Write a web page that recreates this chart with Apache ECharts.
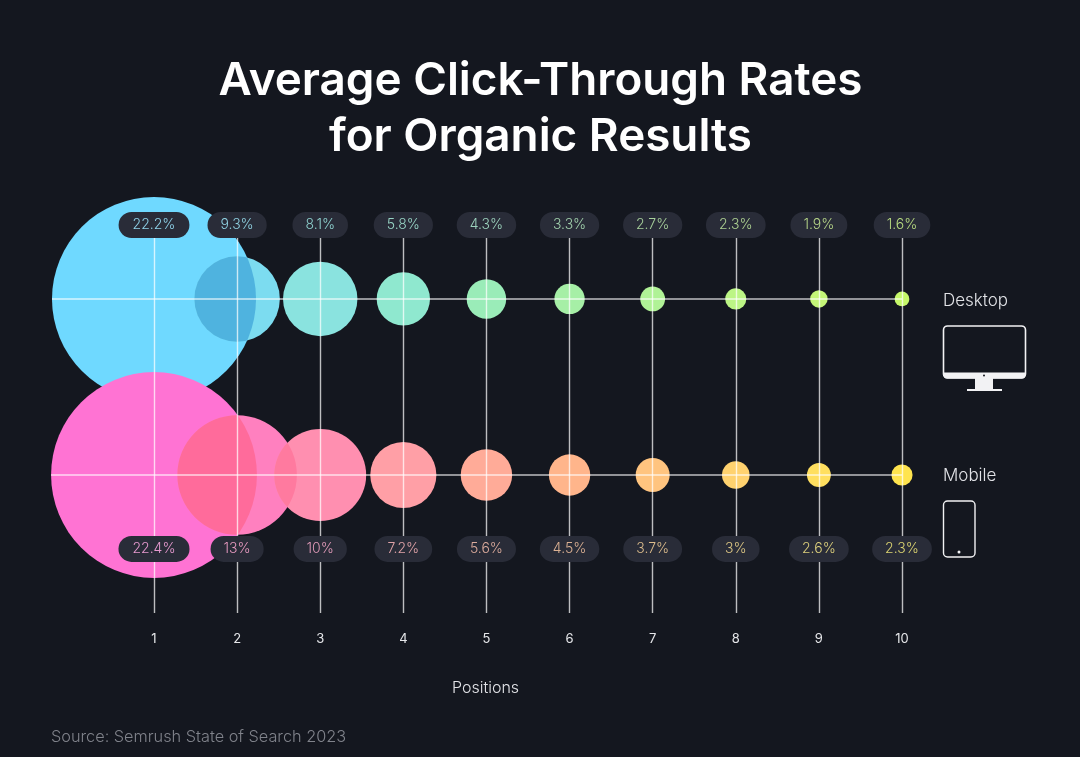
<!DOCTYPE html>
<html>
<head>
<meta charset="utf-8">
<style>html,body{margin:0;padding:0;background:#14171f}#c{width:1080px;height:757px}</style>
<script src="https://cdn.jsdelivr.net/npm/echarts@6/dist/echarts.min.js"></script>
</head>
<body>
<div id="c"></div>
<script>
const positions = [1, 2, 3, 4, 5, 6, 7, 8, 9, 10];
const desktopValues = [22.2, 9.3, 8.1, 5.8, 4.3, 3.3, 2.7, 2.3, 1.9, 1.6];
const mobileValues = [22.4, 13, 10, 7.2, 5.6, 4.5, 3.7, 3, 2.6, 2.3];
const desktopLabels = ['22.2%', '9.3%', '8.1%', '5.8%', '4.3%', '3.3%', '2.7%', '2.3%', '1.9%', '1.6%'];
const mobileLabels = ['22.4%', '13%', '10%', '7.2%', '5.6%', '4.5%', '3.7%', '3%', '2.6%', '2.3%'];
const desktopColors = ['#6fd9ff', '#7cdcf0', '#8ae3df', '#8fe8cf', '#9aecb8', '#a6efa6', '#b0f296', '#bcf585', '#c4f677', '#c6f86a'];
const mobileColors = ['#ff73d3', '#ff80bf', '#ff8fb0', '#ff9fa6', '#ffab98', '#ffb58b', '#ffc47f', '#ffd26f', '#ffdf5f', '#ffe44e'];
const desktopTextColors = ['#8fd3ea', '#8fd0e0', '#8fd3d0', '#98d6c6', '#9cd2bd', '#a2d2ad', '#a8d29c', '#aed292', '#b6d688', '#b8dc80'];
const mobileTextColors = ['#e79ad0', '#e79ac0', '#e09ab8', '#e0a3a8', '#dcab9c', '#dcb193', '#dcbc8c', '#dcc684', '#dccf7c', '#dcd470'];
const rowDesktop = 1, rowMobile = 0;
const rowDesktopLabel = 1.42, rowMobileLabel = -0.42;
const overlaps = [
  { row: rowDesktop, over: 2, overValue: 9.3, under: 1, underValue: 22.2, color: '#4fb3df' },
  { row: rowMobile, over: 2, overValue: 13, under: 1, underValue: 22.4, color: '#ff6b9b' },
  { row: rowMobile, over: 3, overValue: 10, under: 2, underValue: 13, color: '#ff7a9f' }
];

const PX = 9.19;           // bubble diameter in pixels per percentage point
const gridLeft = 154, gridRight = 178, gridTop = 225, gridBottom = 144;
const FONT = 'Inter';
const RULE = { color: 'rgba(255,255,255,0.72)', width: 1.4 };

function bubbles(values, row, colors, z) {
  return {
    type: 'scatter', z, clip: false, silent: true,
    symbolSize: v => v[2] * PX,
    data: positions.map((p, i) => ({ value: [p, row, values[i]], itemStyle: { color: colors[i], opacity: 1 } }))
  };
}
function pills(labels, row, colors) {
  return {
    type: 'scatter', z: 10, clip: false, silent: true, symbolSize: 1,
    itemStyle: { color: 'transparent', opacity: 1 },
    data: positions.map((p, i) => ({
      value: [p, row],
      label: {
        show: true, position: 'inside', formatter: labels[i], color: colors[i], opacity: 1,
        fontFamily: FONT, fontWeight: 300, fontSize: 14, lineHeight: 16,
        backgroundColor: '#292c38', borderRadius: 13, padding: i === 0 ? [6, 14, 4, 14] : [6, 13, 4, 13]
      }
    }))
  };
}

const chart = echarts.init(document.getElementById('c'), null, { renderer: 'canvas' });
chart.setOption({
  animation: false,
  backgroundColor: '#14171f',
  title: {
    text: 'Average Click-Through Rates\nfor Organic Results',
    left: 535.5, top: 48, textAlign: 'center',
    textStyle: { color: '#ffffff', fontFamily: FONT, fontWeight: 600, fontSize: 45.8, lineHeight: 56 }
  },
  grid: { left: gridLeft, right: gridRight, top: gridTop, bottom: gridBottom },
  xAxis: {
    type: 'value', min: 1, max: 10, interval: 1, z: 6,
    axisLine: { show: false }, axisTick: { show: false },
    axisLabel: { color: '#e6e7ea', fontFamily: FONT, fontWeight: 400, fontSize: 13, margin: 20 },
    splitLine: { show: true, lineStyle: RULE }
  },
  yAxis: {
    type: 'value', min: -0.784, max: 1.42, show: false, splitLine: { show: false }
  },
  series: [
    bubbles(desktopValues, rowDesktop, desktopColors, 2),
    bubbles(mobileValues, rowMobile, mobileColors, 3),
    {
      type: 'custom', z: 4, clip: false, silent: true,
      coordinateSystem: 'cartesian2d',
      data: overlaps.map(o => [o.over, o.row, o.overValue, o.under, o.underValue]),
      renderItem(params, api) {
        const a = api.coord([api.value(0), api.value(1)]);
        const b = api.coord([api.value(3), api.value(1)]);
        return {
          type: 'circle',
          shape: { cx: a[0], cy: a[1], r: api.value(2) * PX / 2 },
          clipPath: { type: 'circle', shape: { cx: b[0], cy: b[1], r: api.value(4) * PX / 2 } },
          style: { fill: overlaps[params.dataIndex].color }
        };
      }
    },
    {
      type: 'custom', z: 6, clip: false, silent: true,
      coordinateSystem: 'cartesian2d',
      data: [[positions[0], rowDesktop, desktopValues[0]], [positions[0], rowMobile, mobileValues[0]]],
      renderItem(params, api) {
        const a = api.coord([api.value(0), api.value(1)]);
        const e = api.coord([positions[positions.length - 1], api.value(1)]);
        return {
          type: 'line',
          shape: { x1: a[0] - api.value(2) * PX / 2, y1: a[1], x2: e[0], y2: a[1] },
          style: { stroke: RULE.color, lineWidth: RULE.width }
        };
      }
    },
    pills(desktopLabels, rowDesktopLabel, desktopTextColors),
    pills(mobileLabels, rowMobileLabel, mobileTextColors)
  ],
  graphic: [
    { type: 'text', left: 943, top: 292, style: { text: 'Desktop', fill: '#e2e3e7', font: '300 17px ' + FONT } },
    { type: 'text', left: 943, top: 467, style: { text: 'Mobile', fill: '#e2e3e7', font: '300 17px ' + FONT } },
    { type: 'text', left: 452, top: 680, style: { text: 'Positions', fill: '#e2e3e7', font: '300 16px ' + FONT } },
    { type: 'text', left: 51, top: 729, style: { text: 'Source: Semrush State of Search 2023', fill: '#80838b', font: '300 16.3px ' + FONT } },
    // monitor icon
    { type: 'rect', shape: { x: 943.5, y: 326, width: 82, height: 52, r: 4 }, style: { fill: 'none', stroke: '#f2f2f4', lineWidth: 1.6 } },
    { type: 'rect', shape: { x: 943.5, y: 372.5, width: 82, height: 6, r: [0, 0, 4, 4] }, style: { fill: '#f2f2f4' } },
    { type: 'rect', shape: { x: 975, y: 378, width: 18, height: 12 }, style: { fill: '#f2f2f4' } },
    { type: 'rect', shape: { x: 967, y: 389, width: 35, height: 2 }, style: { fill: '#f2f2f4' } },
    { type: 'circle', shape: { cx: 984, cy: 375.5, r: 1 }, style: { fill: '#14171f' } },
    // phone icon
    { type: 'rect', shape: { x: 943.5, y: 501, width: 31.5, height: 56, r: 4 }, style: { fill: 'none', stroke: '#f2f2f4', lineWidth: 1.4 } },
    { type: 'circle', shape: { cx: 959, cy: 552, r: 1.5 }, style: { fill: '#f2f2f4' } }
  ]
});
</script>
</body>
</html>
